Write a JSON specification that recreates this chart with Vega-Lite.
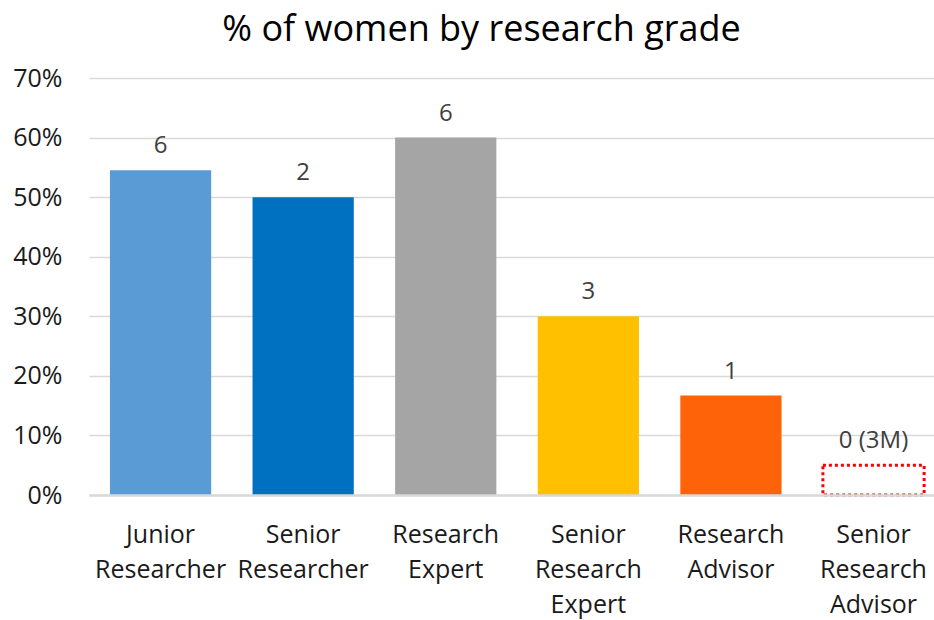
{
  "$schema": "https://vega.github.io/schema/vega-lite/v6.json",
  "width": 845,
  "height": 417,
  "autosize": "none",
  "padding": {"left": 89, "top": 78, "right": 0, "bottom": 125},
  "background": "white",
  "config": {"view": {"stroke": null}, "font": "Open Sans"},
  "title": {
    "text": "% of women by research grade",
    "fontSize": 36,
    "font": "Open Sans",
    "fontWeight": "normal",
    "color": "#000000",
    "anchor": "middle",
    "dx": -30,
    "offset": 17
  },
  "data": {
    "values": [
      {"grade": "Junior Researcher", "share": 0.545, "label": "6"},
      {"grade": "Senior Researcher", "share": 0.5, "label": "2"},
      {"grade": "Research Expert", "share": 0.6, "label": "6"},
      {"grade": "Senior Research Expert", "share": 0.3, "label": "3"},
      {"grade": "Research Advisor", "share": 0.167, "label": "1"},
      {"grade": "Senior Research Advisor", "share": 0.05, "label": "0 (3M)"}
    ]
  },
  "encoding": {
    "x": {
      "field": "grade",
      "type": "nominal",
      "sort": null,
      "scale": {"paddingInner": 0.29, "paddingOuter": 0.108, "align": 0.68},
      "axis": {
        "title": null,
        "labelExpr": "split(datum.value, ' ')",
        "labelAngle": 0,
        "labelFontSize": 25,
        "labelColor": "#1a1a1a",
        "labelLineHeight": 35,
        "labelPadding": 27,
        "labelLimit": 0,
        "labelOverlap": false,
        "ticks": false,
        "domainColor": "#d9d9d9",
        "domainWidth": 2.5,
        "grid": false,
        "zindex": 1
      }
    },
    "y": {
      "field": "share",
      "type": "quantitative",
      "scale": {"domain": [0, 0.7], "nice": false},
      "axis": {
        "title": null,
        "format": ".0%",
        "values": [0, 0.1, 0.2, 0.3, 0.4, 0.5, 0.6, 0.7],
        "gridColor": "#d9d9d9",
        "gridWidth": 1.5,
        "domain": false,
        "ticks": false,
        "labelPadding": 27,
        "labelFontSize": 25,
        "labelColor": "#1a1a1a"
      }
    }
  },
  "layer": [
    {
      "transform": [{"filter": "datum.grade !== 'Senior Research Advisor'"}],
      "mark": {"type": "bar"},
      "encoding": {
        "color": {
          "field": "grade",
          "type": "nominal",
          "legend": null,
          "scale": {
            "domain": ["Junior Researcher", "Senior Researcher", "Research Expert", "Senior Research Expert", "Research Advisor"],
            "range": ["#5B9BD5", "#0070C0", "#A5A5A5", "#FFC000", "#FF6309"]
          }
        }
      }
    },
    {
      "transform": [{"filter": "datum.grade === 'Senior Research Advisor'"}],
      "mark": {"type": "bar", "fill": "transparent", "stroke": "#FF0000", "strokeWidth": 3, "strokeDash": [3, 3]}
    },
    {
      "mark": {"type": "text", "baseline": "alphabetic", "dy": -17, "fontSize": 24, "color": "#404040"},
      "encoding": {"text": {"field": "label"}}
    }
  ]
}
